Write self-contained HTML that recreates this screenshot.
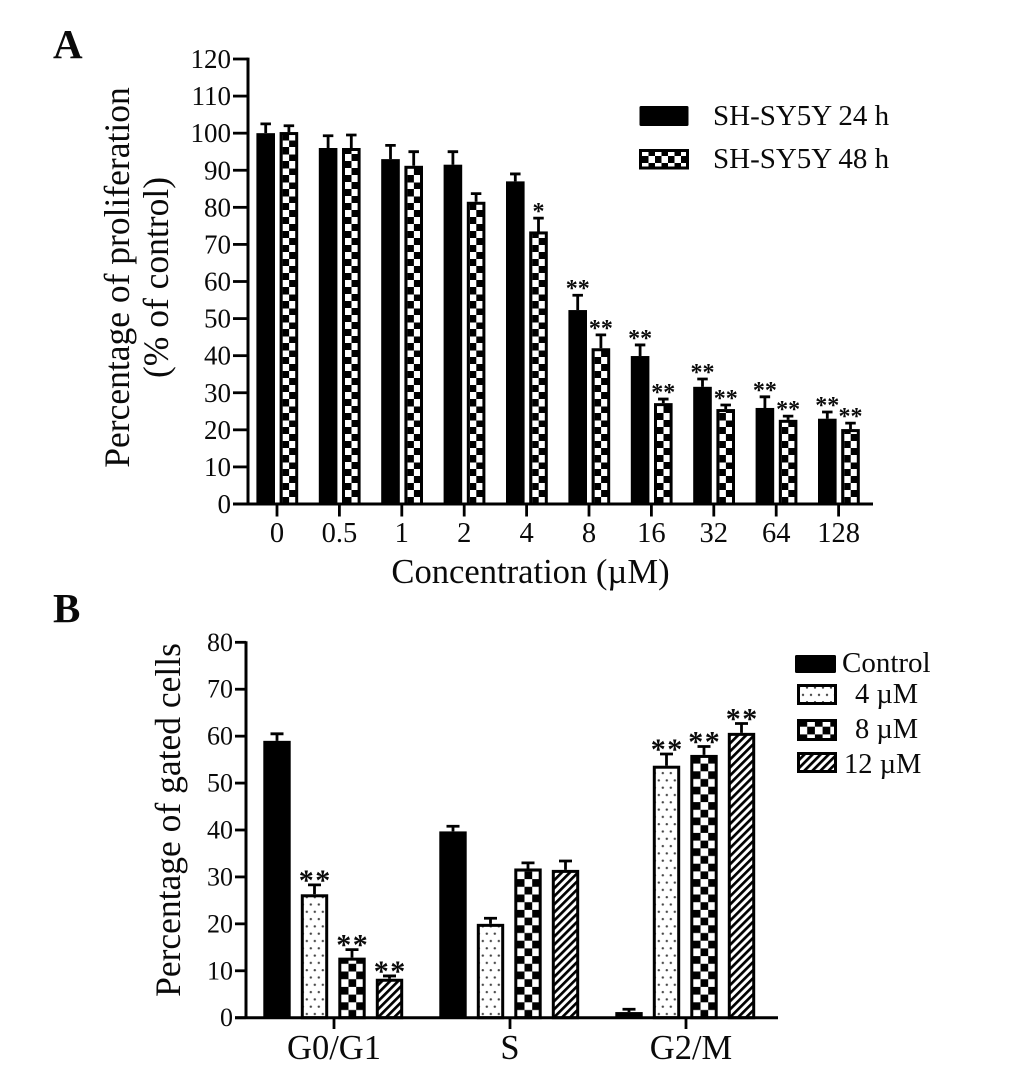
<!DOCTYPE html>
<html lang="en">
<head>
<meta charset="utf-8">
<title>SH-SY5Y proliferation and cell cycle charts</title>
<style>
  html, body { margin: 0; padding: 0; background: #fff; }
  svg { display: block; filter: blur(0.35px); }
  text { font-family: "Liberation Serif", serif; fill: #0a0a0a; }
</style>
</head>
<body>
<svg id="figure" xmlns="http://www.w3.org/2000/svg" width="1033" height="1069" viewBox="0 0 1033 1069">
  <defs>
    <pattern id="checkA" patternUnits="userSpaceOnUse" width="13" height="14" patternTransform="translate(3,0)">
      <rect width="13" height="14" fill="#000"/>
      <rect x="0" y="0" width="6.5" height="7" fill="#fff"/>
      <rect x="6.5" y="7" width="6.5" height="7" fill="#fff"/>
    </pattern>
    <pattern id="checkB" patternUnits="userSpaceOnUse" width="15.4" height="15.4" patternTransform="translate(2.5,0)">
      <rect width="15.4" height="15.4" fill="#fff"/>
      <rect x="0" y="0" width="7.7" height="7.7" fill="#000"/>
      <rect x="7.7" y="7.7" width="7.7" height="7.7" fill="#000"/>
    </pattern>
    <pattern id="dots" patternUnits="userSpaceOnUse" width="8" height="14.6">
      <rect width="8" height="14.6" fill="#fff"/>
      <circle cx="2" cy="3.6" r="1.2" fill="#444"/>
      <circle cx="6" cy="10.9" r="1.2" fill="#444"/>
    </pattern>
    <pattern id="hatch" patternUnits="userSpaceOnUse" width="5.7" height="5.7" patternTransform="rotate(45)">
      <rect width="5.7" height="5.7" fill="#fff"/>
      <rect x="0" y="0" width="2.7" height="5.7" fill="#000"/>
    </pattern>
  </defs>

  <text x="53" y="58" font-size="41" font-weight="bold">A</text>
  <text x="53" y="622" font-size="41" font-weight="bold">B</text>

  <text transform="translate(129,277.5) rotate(-90)" text-anchor="middle" font-size="35.5">Percentage of proliferation</text>
  <text transform="translate(168,277.5) rotate(-90)" text-anchor="middle" font-size="35.5">(% of control)</text>
  <text x="530.5" y="583" text-anchor="middle" font-size="34.6">Concentration (µM)</text>
  <text transform="translate(180,820) rotate(-90)" text-anchor="middle" font-size="35.5">Percentage of gated cells</text>

  <g id="panelA"></g>
  <g id="panelB"></g>

  <g>
    <rect x="639.5" y="106" width="49" height="20" rx="1.5" fill="#000"/>
    <text x="713" y="125" font-size="29">SH-SY5Y 24 h</text>
    <g transform="translate(639,149)">
      <rect x="1.5" y="1.5" width="47" height="17.5" fill="url(#checkA)" stroke="#000" stroke-width="3"/>
    </g>
    <text x="713" y="168" font-size="29">SH-SY5Y 48 h</text>
  </g>

  <g>
    <rect x="795" y="655" width="41" height="18" rx="1.5" fill="#000"/>
    <text x="842" y="672" font-size="29">Control</text>
    <g transform="translate(797,684)">
      <rect x="1.5" y="1.5" width="37" height="18" fill="url(#dots)" stroke="#000" stroke-width="3"/>
    </g>
    <text x="855" y="703" font-size="28.5">4 µM</text>
    <g transform="translate(797,719)">
      <rect x="1.5" y="1.5" width="37" height="19" fill="url(#checkB)" stroke="#000" stroke-width="3"/>
    </g>
    <text x="855" y="738" font-size="28.5">8 µM</text>
    <g transform="translate(797,752)">
      <rect x="1.5" y="1.5" width="37" height="18" fill="url(#hatch)" stroke="#000" stroke-width="3"/>
    </g>
    <text x="844" y="773" font-size="28.5">12 µM</text>
  </g>
</svg>

<script>
// ---- Panel A data ----
const concentrations = ['0', '0.5', '1', '2', '4', '8', '16', '32', '64', '128'];
const prolif24h = [100, 96, 93, 91.5, 87, 52.3, 39.9, 31.6, 25.9, 23];
const prolif24hErr = [2.5, 3.3, 3.7, 3.5, 2, 4, 3, 2.1, 3, 1.8];
const prolif48h = [100.3, 96, 91.2, 81.5, 73.5, 42, 27.2, 25.6, 22.7, 20.2];
const prolif48hErr = [1.7, 3.5, 3.8, 2.2, 3.6, 3.6, 1.1, 1.1, 1, 1.6];
const stars24h = [0, 0, 0, 0, 0, 2, 2, 2, 2, 2];
const stars48h = [0, 0, 0, 0, 1, 2, 2, 2, 2, 2];
const yTicksA = [0, 10, 20, 30, 40, 50, 60, 70, 80, 90, 100, 110, 120];

// ---- Panel B data ----
const phases = ['G0/G1', 'S', 'G2/M'];
const gatedControl = [59, 39.7, 1.2];
const gatedControlErr = [1.5, 1.1, 0.6];
const gated4 = [26.3, 20, 53.7];
const gated4Err = [2, 1.2, 2.5];
const gated8 = [12.8, 31.8, 56];
const gated8Err = [1.7, 1.2, 1.8];
const gated12 = [8.3, 31.5, 60.7];
const gated12Err = [0.6, 1.9, 2];
const starsControl = [0, 0, 0];
const stars4 = [2, 0, 2];
const stars8 = [2, 0, 2];
const stars12 = [2, 0, 2];
const yTicksB = [0, 10, 20, 30, 40, 50, 60, 70, 80];

const NS = 'http://www.w3.org/2000/svg';
function make(parent, tag, attrs, content) {
  const node = document.createElementNS(NS, tag);
  for (const key in attrs) node.setAttribute(key, attrs[key]);
  if (content !== undefined) node.textContent = content;
  parent.appendChild(node);
  return node;
}

// Axis functions
const yA = v => 504 - v * 445 / 120;
const xA = i => 277 + i * 62.4;
const yB = v => 1017.7 - v * 187.7 / 40;
const xB = i => 334 + i * 176;

function drawBar(parent, cx, width, base, top, fill) {
  const g = make(parent, 'g', { transform: 'translate(' + (cx - width / 2) + ',' + base + ')' });
  const h = base - top;
  let el;
  if (fill === '#000') {
    el = make(g, 'rect', { x: 0, y: -h, width: width, height: h, fill: '#000' });
  } else {
    el = make(g, 'rect', { x: 1.5, y: -h + 1.5, width: width - 3, height: h - 1.5, fill: fill, stroke: '#000', 'stroke-width': 3 });
  }
  
  
}

function drawError(parent, cx, top, errTop, capW) {
  const el = make(parent, 'path', {
    d: 'M' + cx + ' ' + top + 'V' + errTop + 'M' + (cx - capW / 2) + ' ' + errTop + 'H' + (cx + capW / 2),
    stroke: '#000', 'stroke-width': 2.8, fill: 'none'
  });
  
  
}

function drawStars(parent, cx, errTop, count, size, lift, spacing) {
  if (!count) return;
  const el = make(parent, 'text', {
    x: cx + spacing / 2, y: errTop + lift, 'text-anchor': 'middle', 'font-size': size, 'font-weight': 'bold', 'letter-spacing': spacing
  }, '*'.repeat(count));
  
  
}

// ---------- Panel A ----------
const panelA = document.getElementById('panelA');
yTicksA.forEach(t => {
  const tick = make(panelA, 'line', { x1: 233, x2: 248, y1: yA(t), y2: yA(t), stroke: '#000', 'stroke-width': 2.8 });
  
  
  const label = make(panelA, 'text', { x: 231, y: yA(t) + 9, 'text-anchor': 'end', 'font-size': 27 }, t);
  
  
});
concentrations.forEach((c, i) => {
  const cx = xA(i);
  drawBar(panelA, cx - 11.3, 18.6, yA(0), yA(prolif24h[i]), '#000');
  drawBar(panelA, cx + 11.9, 18.6, yA(0), yA(prolif48h[i]), 'url(#checkA)');
  drawError(panelA, cx - 11.3, yA(prolif24h[i]), yA(prolif24h[i] + prolif24hErr[i]), 10.5);
  drawError(panelA, cx + 11.9, yA(prolif48h[i]), yA(prolif48h[i] + prolif48hErr[i]), 10.5);
  drawStars(panelA, cx - 11.3, yA(prolif24h[i] + prolif24hErr[i]), stars24h[i], 24, 1, 0);
  drawStars(panelA, cx + 11.9, yA(prolif48h[i] + prolif48hErr[i]), stars48h[i], 24, 1, 0);
  const tick = make(panelA, 'line', { x1: cx, x2: cx, y1: 504, y2: 516.5, stroke: '#000', 'stroke-width': 2.8 });
  
  
  const label = make(panelA, 'text', { x: cx, y: 542, 'text-anchor': 'middle', 'font-size': 28.5 }, c);
  
  
});
const axisA = make(panelA, 'path', { d: 'M248 57.6V504M233 504H873', stroke: '#000', 'stroke-width': 3, fill: 'none' });



// ---------- Panel B ----------
const panelB = document.getElementById('panelB');
yTicksB.forEach(t => {
  const tick = make(panelB, 'line', { x1: 235, x2: 246, y1: yB(t), y2: yB(t), stroke: '#000', 'stroke-width': 2.8 });
  
  
  const label = make(panelB, 'text', { x: 233, y: yB(t) + 8.5, 'text-anchor': 'end', 'font-size': 26 }, t);
  
  
});
phases.forEach((p, i) => {
  const cx = xB(i);
  const offsets = [-57, -19.5, 18, 55.5];
  const vals = [gatedControl[i], gated4[i], gated8[i], gated12[i]];
  const errs = [gatedControlErr[i], gated4Err[i], gated8Err[i], gated12Err[i]];
  const stars = [starsControl[i], stars4[i], stars8[i], stars12[i]];
  const fills = ['#000', 'url(#dots)', 'url(#checkB)', 'url(#hatch)'];
  vals.forEach((v, s) => {
    drawBar(panelB, cx + offsets[s], 27.4, yB(0), yB(v), fills[s]);
    drawError(panelB, cx + offsets[s], yB(v), yB(v + errs[s]), 13);
    drawStars(panelB, cx + offsets[s], yB(v + errs[s]), stars[s], 30, 5, 1.5);
  });
  const tick = make(panelB, 'line', { x1: cx, x2: cx, y1: 1018, y2: 1029, stroke: '#000', 'stroke-width': 2.8 });
  
  
  const label = make(panelB, 'text', { x: cx + (i === 2 ? 5 : 0), y: 1059, 'text-anchor': 'middle', 'font-size': 34.5 }, p);
  
  
});
const axisB = make(panelB, 'path', { d: 'M246 641.3V1017.7M235 1017.7H778', stroke: '#000', 'stroke-width': 3, fill: 'none' });


</script>
</body>
</html>
